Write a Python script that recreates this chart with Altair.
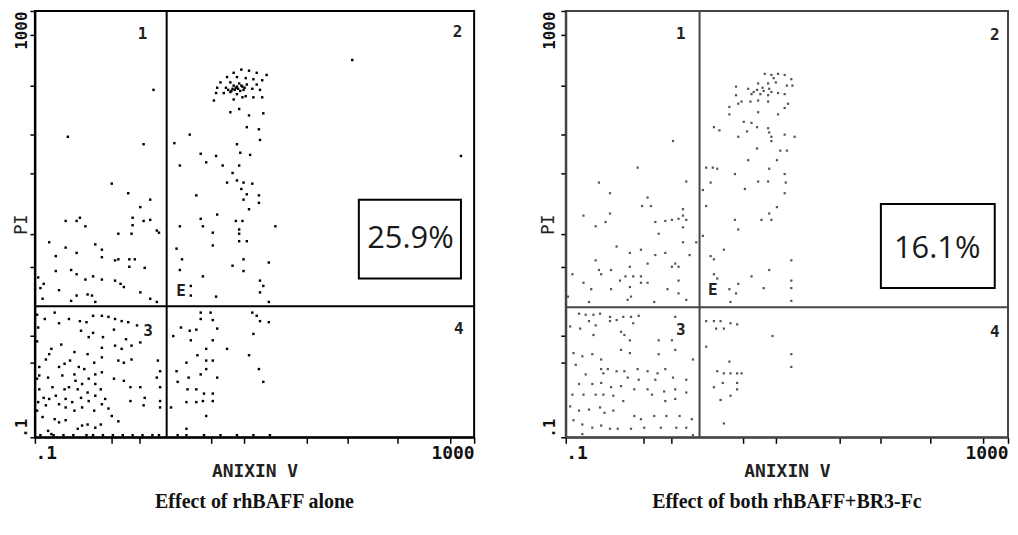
import altair as alt
import numpy as np
import pandas as pd

# ---------------- data (log10 fluorescence) ----------------
# Left panel: rhBAFF alone
left_q2 = [
    (0.88, 2.45), (0.81, 2.42), (0.95, 2.44), (1.02, 2.42), (1.11, 2.40), (0.75, 2.38), (0.84, 2.38),
    (0.92, 2.37), (0.99, 2.36), (1.07, 2.35), (0.69, 2.33), (0.78, 2.33), (0.86, 2.32), (0.93, 2.31),
    (1.02, 2.31), (0.66, 2.28), (0.74, 2.28), (0.80, 2.27), (0.83, 2.28), (0.89, 2.29), (0.90, 2.26),
    (0.98, 2.27), (1.05, 2.26), (0.65, 2.23), (0.72, 2.23), (0.78, 2.24), (0.84, 2.22), (0.92, 2.20),
    (0.99, 2.19), (1.07, 2.19), (0.63, 2.16), (0.81, 2.17), (0.89, 2.19), (0.82, 2.26), (0.85, 2.27),
    (0.87, 2.25), (0.79, 2.25), (0.84, 2.29), (0.88, 2.30), (0.76, 2.26), (0.81, 2.30), (0.91, 2.28),
    (0.86, 2.08), (0.78, 2.05), (0.95, 2.02), (1.08, 2.04), (0.93, 1.91), (1.04, 1.89), (0.84, 1.75),
    (0.87, 1.67), (0.96, 1.65), (1.05, 1.79), (0.27, 1.76), (0.41, 1.84), (0.51, 1.66), (0.56, 1.58),
    (0.65, 1.64), (0.71, 1.55), (0.86, 1.55), (0.80, 1.48), (0.75, 1.39), (0.84, 1.41), (0.90, 1.39),
    (0.98, 1.38), (0.88, 1.33), (0.93, 1.28), (0.90, 1.23), (1.04, 1.27), (0.95, 1.14), (1.04, 1.20),
    (0.47, 1.27), (0.32, 1.55), (0.66, 1.09), (0.51, 1.05), (0.53, 0.98), (0.83, 1.03), (0.89, 1.03),
    (0.86, 0.95), (0.86, 0.91), (0.86, 0.84), (0.93, 0.84), (0.62, 0.92), (0.62, 0.80), (0.32, 0.98),
    (0.29, 0.77), (0.34, 0.67), (0.90, 0.67), (1.13, 0.64), (1.19, 0.98), (0.80, 0.61), (0.90, 0.56),
    (0.32, 0.57), (0.53, 0.51), (0.42, 0.42), (0.65, 0.32), (1.05, 0.47), (1.08, 0.42), (1.05, 0.36),
    (1.13, 0.27), (0.42, 0.33), (2.88, 1.64), (1.89, 2.54),
]
left_q1 = [
    (0.08, 2.26), (-0.70, 1.82), (-0.01, 1.75), (-0.30, 1.38), (-0.15, 1.29), (-0.04, 1.16), (0.05, 1.23),
    (-0.72, 1.03), (-0.62, 1.03), (-0.59, 1.06), (-0.54, 0.98), (-0.11, 1.06), (-0.11, 0.99), (-0.01, 1.03),
    (0.05, 1.04), (0.11, 0.94), (0.13, 0.92), (-0.12, 0.91), (-0.24, 0.91), (-0.87, 0.83), (-0.81, 0.70),
    (-0.72, 0.78), (-0.62, 0.73), (-0.45, 0.81), (-0.39, 0.76), (-0.39, 0.69), (-0.27, 0.66), (-0.24, 0.67),
    (-0.14, 0.67), (-0.09, 0.67), (-0.14, 0.60), (0.00, 0.59), (-0.81, 0.56), (-0.62, 0.53), (-0.54, 0.48),
    (-0.47, 0.51), (-0.67, 0.57), (-0.39, 0.48), (-0.27, 0.47), (-0.22, 0.44), (-0.19, 0.41), (-0.97, 0.50),
    (-0.92, 0.44), (-0.62, 0.33), (-0.52, 0.34), (-0.48, 0.33), (-0.04, 0.36), (0.05, 0.30), (0.11, 0.27),
    (-0.78, 0.38), (-0.67, 0.28), (-0.45, 0.27), (-0.95, 0.40), (-0.93, 0.30),
]
left_q3 = [
    (-0.91, 0.11), (-0.82, 0.17), (-0.69, 0.11), (-0.59, 0.09), (-0.53, 0.08), (-0.47, 0.14), (-0.39, 0.14),
    (-0.33, 0.13), (-0.27, 0.11), (-0.21, 0.09), (-0.15, 0.08), (-0.07, 0.05), (-0.78, 0.07), (-0.58, 0.00),
    (-0.47, -0.02), (-0.28, 0.01), (-0.38, -0.06), (-0.51, -0.06), (-0.17, -0.08), (-0.04, -0.11),
    (-0.12, -0.14), (-0.21, -0.17), (-0.27, -0.14), (-0.39, -0.16), (-0.52, -0.22), (-0.64, -0.20),
    (-0.76, -0.13), (-0.85, -0.17), (-0.90, -0.27), (-0.73, -0.31), (-0.68, -0.28), (-0.60, -0.34),
    (-0.46, -0.30), (-0.39, -0.25), (-0.24, -0.28), (-0.19, -0.30), (-0.12, -0.27), (0.12, -0.28),
    (-0.96, -0.42), (-0.88, -0.44), (-0.75, -0.42), (-0.63, -0.47), (-0.55, -0.36), (-0.45, -0.41),
    (-0.39, -0.39), (-0.28, -0.45), (-0.19, -0.47), (0.14, -0.38), (0.11, -0.44), (-0.84, -0.53),
    (-0.73, -0.55), (-0.69, -0.53), (-0.61, -0.55), (-0.52, -0.58), (-0.45, -0.50), (-0.40, -0.55),
    (-0.13, -0.53), (-0.04, -0.53), (0.14, -0.53), (-0.92, -0.63), (-0.87, -0.64), (-0.81, -0.61),
    (-0.72, -0.64), (-0.66, -0.67), (-0.58, -0.63), (-0.51, -0.66), (-0.45, -0.61), (-0.36, -0.64),
    (-0.13, -0.66), (0.00, -0.63), (0.14, -0.66), (-0.90, -0.70), (-0.78, -0.69), (-0.72, -0.72),
    (-0.64, -0.75), (-0.57, -0.72), (-0.46, -0.75), (-0.39, -0.69), (-0.33, -0.73), (0.14, -0.72),
    (-0.01, -0.70), (-0.82, -0.83), (-0.78, -0.86), (-0.72, -0.84), (-0.57, -0.89), (-0.52, -0.88),
    (-0.45, -0.91), (-0.40, -0.88), (-0.30, -0.80), (-0.24, -0.85), (-0.61, -0.92), (-0.88, -0.94),
    (-0.85, -0.97), (-0.93, -0.81), (-0.97, -0.67), (-0.96, -0.55), (-0.96, -0.34), (-0.97, 0.03),
    (-0.87, -0.22), (-0.78, -0.34), (-0.64, -0.41), (-0.51, -0.45), (-0.57, -0.50), (-0.95, -0.98),
    (-0.83, -0.98), (-0.74, -0.98), (-0.65, -0.98), (-0.53, -0.98), (-0.47, -0.98), (-0.38, -0.98),
    (-0.29, -0.98), (-0.20, -0.98), (-0.11, -0.98), (-0.02, -0.98), (0.07, -0.98), (0.13, -0.98),
    (-0.98, -0.10), (-0.98, -0.45), (-0.98, -0.75), (-0.98, 0.15),
]
left_q4 = [
    (0.51, 0.17), (0.60, 0.17), (0.51, 0.11), (0.62, 0.10), (0.98, 0.17), (1.02, 0.14), (1.05, 0.09),
    (1.13, 0.08), (0.33, 0.03), (0.41, 0.00), (0.26, -0.05), (0.47, 0.01), (0.66, 0.02), (0.99, -0.03),
    (0.42, -0.09), (0.62, -0.09), (0.75, -0.17), (0.56, -0.17), (0.56, -0.28), (0.48, -0.23), (0.62, -0.28),
    (0.95, -0.23), (0.38, -0.30), (0.56, -0.36), (0.29, -0.38), (0.40, -0.44), (0.66, -0.44), (0.51, -0.41),
    (1.04, -0.36), (1.08, -0.48), (0.30, -0.48), (0.39, -0.55), (0.47, -0.55), (0.54, -0.59), (0.62, -0.59),
    (0.53, -0.66), (0.62, -0.66), (0.38, -0.67), (0.47, -0.67), (0.56, -0.80), (0.24, -0.72), (0.38, -0.92),
    (0.30, -0.98), (0.38, -0.98), (0.54, -0.98), (0.69, -0.98), (0.84, -0.98), (0.99, -0.98), (1.14, -0.98),
]

# Right panel: rhBAFF + BR3-Fc
right_q2 = [
    (0.80, 2.41), (0.86, 2.40), (0.92, 2.41), (0.98, 2.40), (1.04, 2.36), (0.74, 2.32), (0.83, 2.32),
    (0.90, 2.33), (1.00, 2.30), (1.05, 2.30), (0.54, 2.29), (0.65, 2.27), (0.73, 2.26), (0.79, 2.25),
    (0.86, 2.24), (0.92, 2.23), (0.68, 2.22), (0.76, 2.22), (0.83, 2.21), (0.98, 2.22), (0.54, 2.21),
    (0.59, 2.15), (0.67, 2.15), (0.74, 2.16), (0.83, 2.15), (1.01, 2.13), (0.48, 2.10), (0.98, 2.09),
    (0.48, 2.03), (0.56, 2.13), (0.74, 2.05), (0.92, 2.03), (0.61, 1.96), (0.68, 1.95), (0.73, 1.91),
    (0.34, 1.91), (0.39, 1.88), (0.83, 1.90), (0.84, 1.86), (0.64, 1.87), (0.56, 1.82), (0.86, 1.82),
    (0.98, 1.84), (1.07, 1.82), (0.86, 1.78), (0.73, 1.71), (0.94, 1.69), (1.00, 1.69), (0.65, 1.60),
    (0.91, 1.60), (0.27, 1.53), (0.33, 1.53), (0.37, 1.52), (0.53, 1.47), (0.84, 1.52), (0.98, 1.47),
    (0.74, 1.40), (0.83, 1.40), (0.99, 1.39), (0.31, 1.39), (0.62, 1.33), (0.24, 1.32), (0.98, 1.29),
    (0.27, 1.17), (0.91, 1.16), (0.84, 1.10), (0.86, 1.04), (0.77, 1.04), (0.53, 1.04), (0.56, 0.95),
    (0.24, 0.89), (0.43, 0.76), (0.31, 0.70), (0.34, 0.67), (1.04, 0.66), (0.84, 0.57), (0.68, 0.51),
    (0.34, 0.53), (0.37, 0.49), (1.04, 0.47), (0.56, 0.44), (0.79, 0.40), (1.04, 0.40), (0.48, 0.39),
    (0.54, 0.35), (0.49, 0.27), (1.04, 0.28), (0.78, 2.28), (0.84, 2.27), (0.70, 2.24), (0.88, 2.37),
]
right_q1 = [
    (-0.03, 1.78), (-0.35, 1.53), (-0.70, 1.39), (0.09, 1.40), (-0.60, 1.29), (-0.26, 1.25), (-0.31, 1.17),
    (-0.23, 1.17), (0.06, 1.14), (-0.60, 1.10), (-0.84, 1.08), (0.06, 1.08), (-0.64, 1.02), (-0.73, 0.98),
    (-0.19, 1.02), (-0.10, 1.03), (-0.04, 1.04), (0.02, 1.05), (0.09, 1.04), (-0.16, 0.91), (0.06, 0.97),
    (0.06, 0.83), (0.18, 0.83), (-0.54, 0.79), (-0.32, 0.76), (-0.42, 0.73), (-0.19, 0.71), (-0.10, 0.73),
    (0.12, 0.71), (-0.73, 0.66), (-0.26, 0.63), (-0.01, 0.63), (-0.70, 0.57), (-0.68, 0.53), (-0.59, 0.57),
    (-0.42, 0.60), (-0.04, 0.60), (0.02, 0.60), (-0.94, 0.53), (-0.51, 0.47), (-0.46, 0.51), (-0.39, 0.51),
    (-0.32, 0.51), (-0.32, 0.45), (-0.26, 0.45), (0.02, 0.47), (-0.84, 0.45), (-0.77, 0.39), (-0.59, 0.39),
    (-0.42, 0.41), (-0.08, 0.39), (0.02, 0.35), (-0.41, 0.32), (-0.79, 0.27), (-0.44, 0.29), (-0.20, 0.27),
    (0.09, 0.29), (-0.98, 0.32),
]
right_q3 = [
    (-0.88, 0.16), (-0.82, 0.15), (-0.75, 0.15), (-0.69, 0.16), (-0.60, 0.13), (-0.48, 0.13), (-0.41, 0.13),
    (-0.34, 0.14), (-0.01, 0.13), (-0.79, 0.09), (-0.73, 0.05), (-0.60, 0.09), (-0.54, 0.10), (-0.39, 0.07),
    (-0.96, 0.04), (-0.87, 0.02), (-0.75, -0.04), (-0.50, -0.01), (-0.47, -0.04), (-0.16, -0.09),
    (-0.04, -0.09), (-0.42, -0.09), (-0.01, -0.18), (-0.50, -0.18), (-0.93, -0.21), (-0.85, -0.24),
    (-0.76, -0.22), (-0.68, -0.27), (-0.42, -0.21), (-0.16, -0.22), (0.15, -0.27), (-0.91, -0.32),
    (-0.68, -0.36), (-0.62, -0.36), (-0.54, -0.38), (-0.47, -0.38), (-0.35, -0.36), (-0.26, -0.38),
    (-0.17, -0.40), (-0.10, -0.36), (-0.82, -0.41), (-0.66, -0.40), (-0.44, -0.44), (-0.34, -0.46),
    (-0.19, -0.46), (-0.03, -0.44), (0.09, -0.46), (-0.88, -0.50), (-0.76, -0.50), (-0.68, -0.49),
    (-0.59, -0.53), (-0.50, -0.52), (-0.38, -0.55), (-0.26, -0.55), (-0.22, -0.60), (-0.11, -0.57),
    (-0.01, -0.55), (0.09, -0.58), (-0.94, -0.60), (-0.84, -0.60), (-0.73, -0.60), (-0.66, -0.60),
    (-0.57, -0.61), (-0.48, -0.66), (-0.10, -0.66), (-0.01, -0.64), (-0.96, -0.71), (-0.88, -0.75),
    (-0.79, -0.74), (-0.69, -0.72), (-0.65, -0.77), (-0.57, -0.75), (-0.38, -0.80), (-0.32, -0.83),
    (-0.20, -0.80), (-0.09, -0.80), (0.03, -0.80), (0.14, -0.83), (-0.93, -0.84), (-0.85, -0.88),
    (-0.76, -0.91), (-0.68, -0.89), (-0.60, -0.92), (-0.53, -0.92), (-0.41, -0.92), (-0.29, -0.91),
    (-0.14, -0.91), (0.00, -0.91), (0.09, -0.91), (-0.85, -0.97), (0.15, -0.98),
]
right_q4 = [
    (0.27, 0.09), (0.34, 0.09), (0.40, 0.09), (0.49, 0.07), (0.55, 0.06), (0.36, 0.02), (0.43, 0.02),
    (0.87, -0.05), (0.27, -0.15), (1.04, -0.22), (0.48, -0.29), (1.04, -0.34), (0.37, -0.38), (0.43, -0.40),
    (0.49, -0.40), (0.55, -0.40), (0.59, -0.40), (0.42, -0.49), (0.34, -0.53), (0.55, -0.49), (0.55, -0.55),
    (0.49, -0.61), (0.40, -0.65), (0.43, -0.87),
]

# gates (log10 units)
left_gate_x, left_gate_y = 0.20, 0.23
right_gate_x, right_gate_y = 0.21, 0.22

# percentage boxes (log10 units): x0, x1, y0, y1 and text centre
left_box = (1.95, 2.88, 0.49, 1.23)
right_box = (1.85, 2.88, 0.40, 1.19)
left_pct, right_pct = "25.9%", "16.1%"
left_pct_pos, right_pct_pos = (2.42, 0.86), (2.36, 0.77)

quad_labels = ["1", "2", "3", "4", "E"]
left_quad_pos = [(-0.02, 2.78), (2.85, 2.80), (0.03, 0.00), (2.86, 0.02), (0.33, 0.37)]
right_quad_pos = [(0.04, 2.78), (2.88, 2.77), (0.04, 0.01), (2.88, -0.01), (0.33, 0.38)]

titles = ["Effect of rhBAFF alone", "Effect of both rhBAFF+BR3-Fc"]
x_title, y_title = "ANIXIN V", "PI"

# tick positions: 1..9 x 10^n on the 4-decade log axis
tick_pos = [round(float(np.log10(k * 10.0 ** n)), 4) for n in range(-1, 3) for k in range(1, 10)] + [3.0]

MONO = "DejaVu Sans Mono"
H = 428


def panel(quads, gate_x, gate_y, box, pct, pct_pos, qpos, title, color, dot_color, dot_size, width,
          yextent, ytitle_x, ylabel_pad):
    pts = pd.DataFrame([p for q in quads for p in q], columns=["ax", "pi"])
    xs = alt.Scale(domain=[-1, 3], nice=False, zero=False)
    ys = alt.Scale(domain=[-1, 3], nice=False, zero=False)
    label_expr = "datum.value == -1 ? '.1' : (datum.value == 3 ? '1000' : '')"
    xaxis = alt.Axis(values=tick_pos, labelExpr=label_expr, title=x_title, grid=False,
                     tickSize=6, tickWidth=1.5, tickColor="black", domainColor=color, domainWidth=2,
                     labelFont=MONO, labelFontWeight="bold", labelFontSize=18, labelColor="#111",
                     labelFlush=True, labelPadding=1, titleFont=MONO, titleFontWeight="bold",
                     titleFontSize=18, titleColor="#222", titlePadding=0)
    yaxis = alt.Axis(values=tick_pos, labelExpr=label_expr, title=y_title, grid=False,
                     tickSize=5, tickWidth=1.5, tickColor="black", domainColor=color, domainWidth=2,
                     labelFont=MONO, labelFontWeight="bold", labelFontSize=16, labelColor="#111",
                     labelAngle=270, labelBaseline="bottom", labelFlush=False,
                     labelAlign={"condition": {"test": "datum.value < 0", "value": "left"}, "value": "right"},
                     labelPadding=ylabel_pad, titleFont=MONO, titleFontWeight="normal", titleFontSize=17,
                     titleColor="#222", titleX=ytitle_x, titleY=H / 2, titleAlign="center",
                     titleBaseline="middle", titleAngle=270,
                     minExtent=yextent, maxExtent=yextent)
    dots = alt.Chart(pts).mark_square(size=dot_size, color=dot_color, opacity=1).encode(
        x=alt.X("ax:Q", scale=xs, axis=xaxis),
        y=alt.Y("pi:Q", scale=ys, axis=yaxis),
    )
    vrule = alt.Chart(pd.DataFrame({"g": [gate_x]})).mark_rule(color=color, strokeWidth=2).encode(
        x=alt.X("g:Q", scale=xs))
    hrule = alt.Chart(pd.DataFrame({"g": [gate_y]})).mark_rule(color=color, strokeWidth=2).encode(
        y=alt.Y("g:Q", scale=ys))
    bdf = pd.DataFrame({"x0": [box[0]], "x1": [box[1]], "y0": [box[2]], "y1": [box[3]]})
    rect = alt.Chart(bdf).mark_rect(fill="white", stroke="black", strokeWidth=2).encode(
        x=alt.X("x0:Q", scale=xs), x2="x1:Q", y=alt.Y("y0:Q", scale=ys), y2="y1:Q")
    tdf = pd.DataFrame({"x": [pct_pos[0]], "y": [pct_pos[1]], "t": [pct]})
    ptxt = alt.Chart(tdf).mark_text(font="Open Sans", fontSize=31, color="#1a1a1a").encode(
        x=alt.X("x:Q", scale=xs), y=alt.Y("y:Q", scale=ys), text="t:N")
    qdf = pd.DataFrame({"x": [p[0] for p in qpos], "y": [p[1] for p in qpos], "t": quad_labels})
    qtxt = alt.Chart(qdf).mark_text(font=MONO, fontWeight="bold", fontSize=16, color="#222").encode(
        x=alt.X("x:Q", scale=xs), y=alt.Y("y:Q", scale=ys), text="t:N")
    return alt.layer(dots, vrule, hrule, rect, ptxt, qtxt).properties(
        width=width, height=H,
        view=alt.ViewBackground(stroke=color, strokeWidth=2),
        title=alt.TitleParams(title, orient="bottom", font="Liberation Serif", fontSize=20,
                              fontWeight="bold", color="#111", offset=12, anchor="middle"),
    )


left = panel([left_q1, left_q2, left_q3, left_q4], left_gate_x, left_gate_y, left_box, left_pct,
             left_pct_pos, left_quad_pos, titles[0], "black", "black", 6, 441, 24, -13, 0)
right = panel([right_q1, right_q2, right_q3, right_q4], right_gate_x, right_gate_y, right_box, right_pct,
              right_pct_pos, right_quad_pos, titles[1], "#444", "#555", 5, 444, 26, -17, 3)

chart = alt.hconcat(left, right, spacing=63).properties(
    padding={"left": 2, "top": 0, "right": 0, "bottom": 0}
).configure(background="white")

chart.save("out.html", embed_options={"renderer": "svg", "actions": False})
